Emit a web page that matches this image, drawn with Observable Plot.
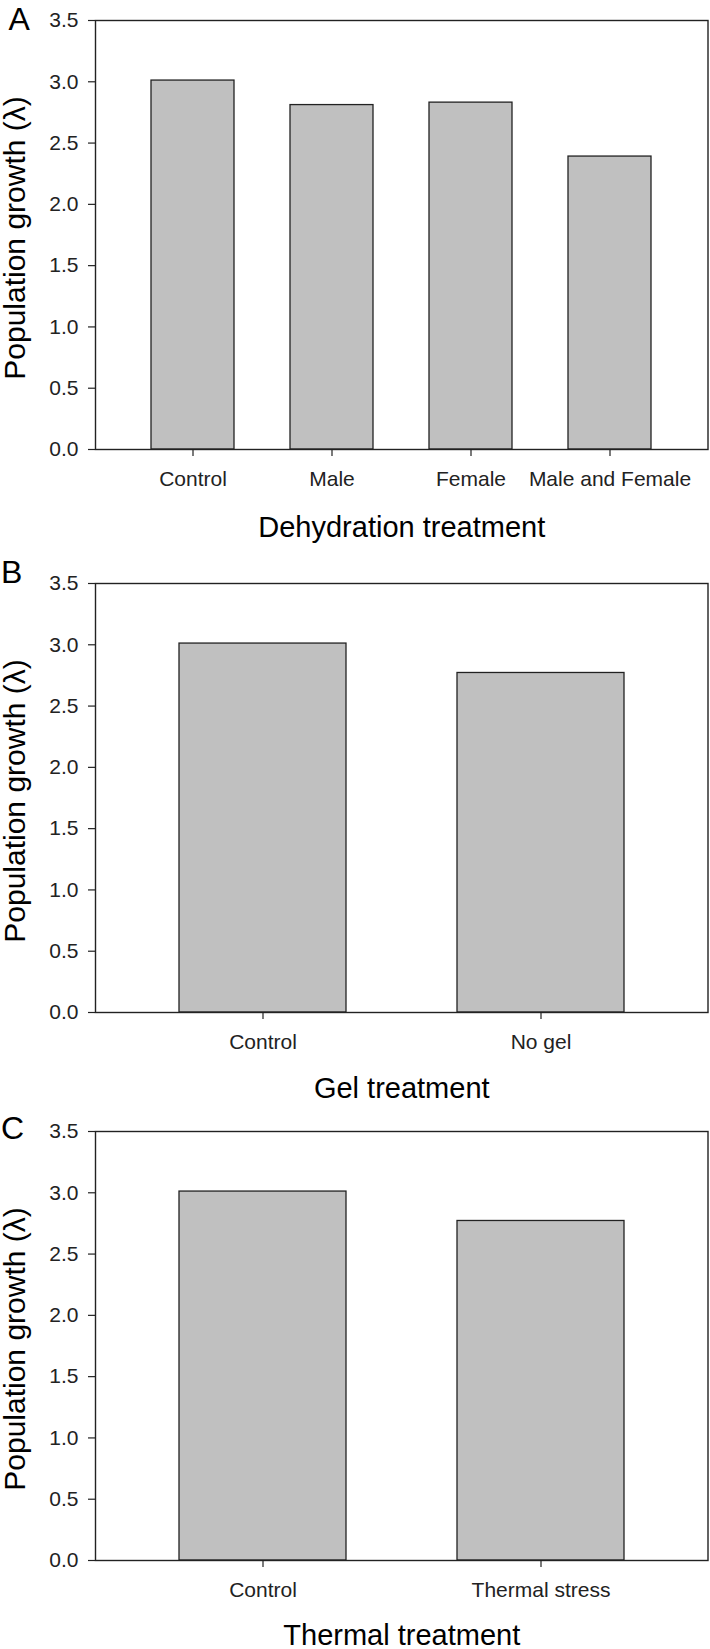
<!DOCTYPE html>
<html>
<head>
<meta charset="utf-8">
<script src="https://cdn.jsdelivr.net/npm/d3@7"></script>
<script src="https://cdn.jsdelivr.net/npm/@observablehq/plot@0.6"></script>
<style>
  html, body { margin: 0; padding: 0; background: #fff; }
  #chart svg { display: block; overflow: visible; }
</style>
</head>
<body>
<div id="chart"></div>
<script>
// ---- data ----
const dehydrationCategories = ["Control", "Male", "Female", "Male and Female"];
const dehydrationValues = [3.01, 2.81, 2.83, 2.39];

const gelCategories = ["Control", "No gel"];
const gelValues = [3.01, 2.77];

const thermalCategories = ["Control", "Thermal stress"];
const thermalValues = [3.01, 2.77];

const yTicks = [0, 0.5, 1.0, 1.5, 2.0, 2.5, 3.0, 3.5];
const yLabel = "Population growth (λ)";
const panelLetters = ["A", "B", "C"];
const xTitles = ["Dehydration treatment", "Gel treatment", "Thermal treatment"];

// ---- drawing ----
const FONT = "'Liberation Sans', Arial, Helvetica, sans-serif";
const INK = "#222";

function panel({cats, vals, letter, title, height, marginBottom, padOuter, letterDx, letterDy, titleDy}) {
  const data = cats.map((c, i) => ({cat: c, val: vals[i]}));
  return Plot.plot({
    width: 710,
    height,
    marginTop: 20,
    marginBottom,
    marginLeft: 95,
    marginRight: 2.5,
    style: {fontFamily: FONT, fontSize: "21px", color: INK, background: "transparent", overflow: "visible"},
    x: {type: "band", domain: cats, paddingInner: 0.4, paddingOuter: padOuter, align: 0.5, label: null},
    y: {domain: [0, 3.5], label: null},
    marks: [
      Plot.barY(data, {x: "cat", y: "val", fill: "#c0c0c0", stroke: INK, strokeWidth: 1.3}),
      Plot.frame({stroke: INK, strokeWidth: 1.4}),
      Plot.axisY({ticks: yTicks, tickFormat: d3.format(".1f"), tickSize: 7, tickPadding: 10,
                  fontSize: 21, stroke: INK, strokeWidth: 1.2, label: null}),
      Plot.axisX({tickSize: 7, tickPadding: 15, fontSize: 21, stroke: INK, strokeWidth: 1.2, label: null}),
      Plot.text([title], {frameAnchor: "bottom", textAnchor: "middle", lineAnchor: "middle",
                          dy: titleDy, fontSize: 29, fill: "#000", text: d => d}),
      Plot.text([yLabel], {frameAnchor: "left", textAnchor: "middle", lineAnchor: "middle",
                           dx: -80.6, dy: 3, rotate: -90, fontSize: 30, fill: "#000", text: d => d}),
      Plot.text([letter], {frameAnchor: "top-left", textAnchor: "start", lineAnchor: "middle",
                           dx: letterDx, dy: letterDy, fontSize: 32, fill: "#000", text: d => d})
    ]
  });
}

const root = document.getElementById("chart");
root.append(panel({cats: dehydrationCategories, vals: dehydrationValues, letter: panelLetters[0], title: xTitles[0],
  height: 563, marginBottom: 114, padOuter: 0.4, letterDx: -87, letterDy: -1.2, titleDy: 78.4}));
root.append(panel({cats: gelCategories, vals: gelValues, letter: panelLetters[1], title: xTitles[1],
  height: 548, marginBottom: 99, padOuter: 0.3, letterDx: -94.5, letterDy: -10.7, titleDy: 76.7}));
root.append(panel({cats: thermalCategories, vals: thermalValues, letter: panelLetters[2], title: xTitles[2],
  height: 538, marginBottom: 89, padOuter: 0.3, letterDx: -94.6, letterDy: -2.7, titleDy: 75}));
</script>
</body>
</html>
